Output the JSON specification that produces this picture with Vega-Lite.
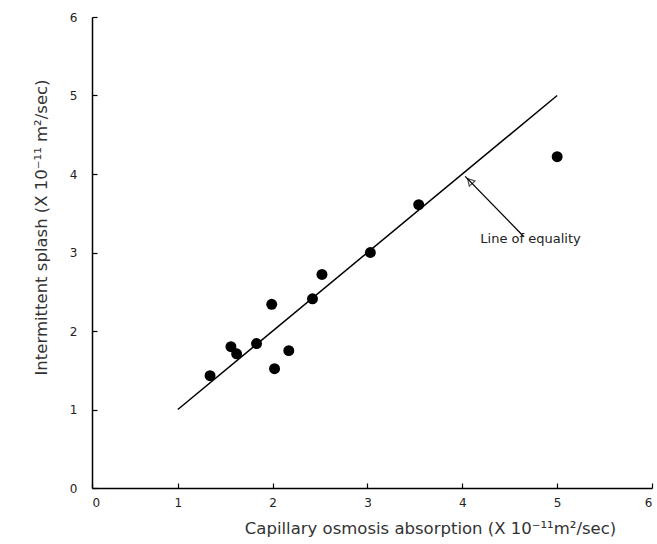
{
  "$schema": "https://vega.github.io/schema/vega-lite/v6.json",
  "width": 560,
  "height": 471,
  "autosize": {"type": "none"},
  "padding": {"left": 92, "top": 17, "right": 5, "bottom": 56},
  "background": "white",
  "config": {
    "view": {"stroke": null},
    "font": "DejaVu Sans",
    "axis": {
      "grid": false,
      "domainColor": "black",
      "domainWidth": 1.5,
      "tickColor": "black",
      "tickWidth": 1.2,
      "tickSize": -5,
      "labelFont": "DejaVu Sans",
      "labelFontSize": 12,
      "labelColor": "#222",
      "titleFont": "DejaVu Sans",
      "titleFontSize": 16.5,
      "titleFontWeight": "normal",
      "titleColor": "#333"
    }
  },
  "datasets": {
    "points": [
      {"x": 1.34, "y": 1.43},
      {"x": 1.56, "y": 1.80},
      {"x": 1.62, "y": 1.71},
      {"x": 1.83, "y": 1.84},
      {"x": 1.99, "y": 2.34},
      {"x": 2.02, "y": 1.52},
      {"x": 2.17, "y": 1.75},
      {"x": 2.42, "y": 2.41},
      {"x": 2.52, "y": 2.72},
      {"x": 3.03, "y": 3.00},
      {"x": 3.54, "y": 3.61},
      {"x": 5.00, "y": 4.22}
    ],
    "equality": [
      {"x": 1, "y": 1},
      {"x": 5, "y": 5}
    ],
    "arrow": [
      {"x": 4.65, "y": 3.2},
      {"x": 4.03, "y": 3.97}
    ],
    "head": [
      {"x": 4.08, "y": 3.91}
    ],
    "label": [
      {"x": 4.19, "y": 3.17, "text": "Line of equality"}
    ]
  },
  "layer": [
    {
      "data": {"name": "equality"},
      "mark": {"type": "line", "color": "black", "strokeWidth": 1.5},
      "encoding": {
        "x": {
          "field": "x", "type": "quantitative",
          "scale": {"domain": [0.095, 6], "nice": false, "zero": false},
          "axis": {"values": [0.095, 1, 2, 3, 4, 5, 6], "labelExpr": "datum.value < 0.5 ? '0' : format(datum.value, 'd')",
                   "labelPadding": 14, "titlePadding": 12, "titleX": 338, "titleAlign": "center", "titleAnchor": null,
                   "title": "Capillary osmosis absorption (X 10⁻¹¹m²/sec)"}
        },
        "y": {
          "field": "y", "type": "quantitative",
          "scale": {"domain": [0, 6], "nice": false},
          "axis": {"values": [0, 1, 2, 3, 4, 5, 6], "format": "d", "labelPadding": 20, "titlePadding": 20,
                   "titleY": 210, "titleAlign": "center", "titleAnchor": null,
                   "title": "Intermittent splash (X 10⁻¹¹ m²/sec)"}
        }
      }
    },
    {
      "data": {"name": "points"},
      "mark": {"type": "point", "filled": true, "color": "black", "size": 120, "opacity": 1},
      "encoding": {
        "x": {"field": "x", "type": "quantitative"},
        "y": {"field": "y", "type": "quantitative"}
      }
    },
    {
      "data": {"name": "arrow"},
      "mark": {"type": "line", "color": "black", "strokeWidth": 1.3},
      "encoding": {
        "x": {"field": "x", "type": "quantitative"},
        "y": {"field": "y", "type": "quantitative"}
      }
    },
    {
      "data": {"name": "head"},
      "mark": {"type": "point", "shape": "triangle-up", "angle": -42, "filled": false, "color": "black", "size": 60, "strokeWidth": 1.2},
      "encoding": {
        "x": {"field": "x", "type": "quantitative"},
        "y": {"field": "y", "type": "quantitative"}
      }
    },
    {
      "data": {"name": "label"},
      "mark": {"type": "text", "align": "left", "baseline": "middle", "fontSize": 13, "color": "#222"},
      "encoding": {
        "x": {"field": "x", "type": "quantitative"},
        "y": {"field": "y", "type": "quantitative"},
        "text": {"field": "text"}
      }
    }
  ]
}
